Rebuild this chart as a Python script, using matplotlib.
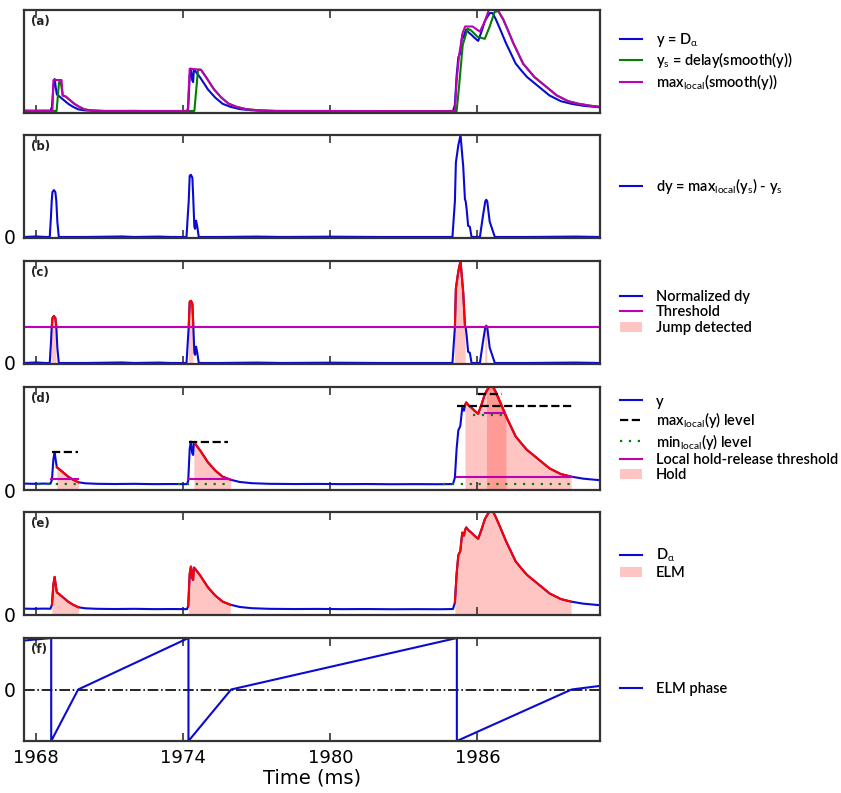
import numpy as np
import matplotlib
matplotlib.use("Agg")
import matplotlib.pyplot as plt
from matplotlib.patches import Patch

plt.rcParams['font.family'] = ['DejaVu Sans']
plt.rcParams['mathtext.fontset'] = 'custom'
plt.rcParams['mathtext.rm'] = 'Lato'
plt.rcParams['mathtext.it'] = 'Lato'

LEGEND_FONT = {'family': 'Lato', 'size': 10.5, 'weight': 'semibold'}

# --- data -----------------------------------------------------------------
# y = D_alpha
DALPHA_T = [1967.50, 1967.90, 1968.30, 1968.58, 1968.64, 1968.70, 1968.75, 1968.80,
            1968.84, 1968.95, 1969.10, 1969.30, 1969.50, 1969.72, 1970.00, 1970.50,
            1971.20, 1972.00, 1972.80, 1973.50, 1974.15, 1974.20, 1974.26, 1974.31,
            1974.36, 1974.40, 1974.43, 1974.48, 1974.70, 1975.00, 1975.30, 1975.60,
            1975.92, 1976.30, 1976.80, 1977.50, 1978.50, 1979.50, 1980.50, 1981.50,
            1982.50, 1983.50, 1984.50, 1985.00, 1985.08, 1985.15, 1985.22, 1985.30,
            1985.38, 1985.45, 1985.49, 1985.54, 1985.65, 1985.75, 1985.88, 1986.03,
            1986.18, 1986.30, 1986.37, 1986.50, 1986.62, 1986.75, 1986.95, 1987.16,
            1987.30, 1987.56, 1987.80, 1988.02, 1988.48, 1988.94, 1989.40, 1989.82,
            1990.32, 1991.00]
DALPHA = [0.062, 0.060, 0.062, 0.061, 0.10, 0.30, 0.37, 0.28,
          0.22, 0.20, 0.17, 0.13, 0.10, 0.075, 0.065, 0.060,
          0.058, 0.060, 0.057, 0.058, 0.057, 0.09, 0.40, 0.47,
          0.36, 0.34, 0.46, 0.45, 0.38, 0.27, 0.19, 0.13,
          0.10, 0.078, 0.066, 0.060, 0.058, 0.059, 0.057, 0.058,
          0.056, 0.057, 0.056, 0.058, 0.12, 0.40, 0.58, 0.62,
          0.80, 0.77, 0.82, 0.85, 0.82, 0.80, 0.77, 0.74,
          0.84, 0.93, 0.96, 1.01, 1.01, 0.95, 0.84, 0.72,
          0.65, 0.52, 0.45, 0.39, 0.30, 0.21, 0.155, 0.13,
          0.11, 0.095]

# y_s = delay(smooth(y))
YS_T = [1967.50, 1968.83, 1968.93, 1969.00, 1969.08, 1969.20, 1969.35, 1969.55,
        1969.75, 1969.97, 1970.25, 1970.75, 1974.45, 1974.60, 1974.72, 1974.95,
        1975.25, 1975.55, 1975.85, 1976.17, 1976.55, 1977.05, 1977.75, 1985.15,
        1985.25, 1985.40, 1985.60, 1985.75, 1986.00, 1986.30, 1986.50, 1986.70,
        1986.85, 1987.05, 1987.25, 1987.46, 1987.86, 1988.32, 1988.78, 1989.24,
        1989.70, 1990.12, 1990.62, 1991.00]
YS = [0.060, 0.060, 0.34, 0.34, 0.21, 0.20, 0.17, 0.13,
      0.10, 0.075, 0.065, 0.060, 0.060, 0.46, 0.46, 0.38,
      0.27, 0.19, 0.13, 0.10, 0.078, 0.066, 0.060, 0.058,
      0.30, 0.70, 0.86, 0.84, 0.78, 0.76, 0.88, 1.02,
      1.03, 0.95, 0.84, 0.72, 0.52, 0.39, 0.30, 0.21,
      0.155, 0.13, 0.11, 0.10]

# max_local(smooth(y))
YMAX_T = [1967.50, 1968.66, 1968.70, 1969.03, 1969.08, 1969.20, 1969.35, 1969.55,
          1969.75, 1969.97, 1970.25, 1970.75, 1974.18, 1974.26, 1974.72, 1974.95,
          1975.25, 1975.55, 1975.85, 1976.17, 1976.55, 1977.05, 1977.75, 1985.08,
          1985.15, 1985.25, 1985.40, 1985.50, 1985.80, 1986.10, 1986.30, 1986.48,
          1986.80, 1987.05, 1987.25, 1987.46, 1987.86, 1988.32, 1988.78, 1989.24,
          1989.70, 1990.12, 1990.62, 1991.00]
YMAX = [0.062, 0.062, 0.36, 0.36, 0.21, 0.20, 0.17, 0.13,
        0.10, 0.075, 0.065, 0.060, 0.058, 0.47, 0.46, 0.38,
        0.27, 0.19, 0.13, 0.10, 0.078, 0.066, 0.060, 0.058,
        0.35, 0.60, 0.82, 0.88, 0.88, 0.83, 0.93, 1.05,
        1.05, 0.95, 0.84, 0.72, 0.52, 0.39, 0.30, 0.21,
        0.155, 0.13, 0.11, 0.10]

# dy = max_local(y_s) - y_s  (panel c shows the same curve normalized)
DY_T = [1967.50, 1968.00, 1968.40, 1968.55, 1968.60, 1968.63, 1968.66, 1968.72,
        1968.78, 1968.82, 1968.86, 1968.92, 1970.00, 1971.50, 1972.00, 1973.00,
        1973.50, 1974.13, 1974.18, 1974.22, 1974.26, 1974.31, 1974.37, 1974.41,
        1974.45, 1974.48, 1974.52, 1974.57, 1974.63, 1975.50, 1977.00, 1978.00,
        1980.00, 1982.00, 1984.98, 1985.08, 1985.12, 1985.22, 1985.31, 1985.38,
        1985.42, 1985.49, 1985.52, 1985.56, 1985.62, 1985.69, 1985.76, 1986.10,
        1986.22, 1986.32, 1986.36, 1986.40, 1986.50, 1986.71, 1988.00, 1990.00,
        1991.00]
DY = [0.0, 0.005, 0.0, 0.0, 0.20, 0.35, 0.44, 0.46,
      0.44, 0.35, 0.15, 0.0, 0.0, 0.005, 0.0, 0.004,
      0.0, 0.0, 0.20, 0.35, 0.60, 0.61, 0.58, 0.35,
      0.10, 0.08, 0.16, 0.10, 0.0, 0.0, 0.004, 0.0,
      0.003, 0.0, 0.0, 0.35, 0.73, 0.90, 1.0, 0.80,
      0.69, 0.37, 0.35, 0.27, 0.11, 0.10, 0.0, 0.0,
      0.20, 0.35, 0.365, 0.35, 0.15, 0.0, 0.0, 0.004,
      0.0]
THRESHOLD = 0.35

# panel (d): hold windows and their levels
HOLD_START = [1968.84, 1974.43, 1985.49, 1986.37]
HOLD_END = [1969.72, 1975.92, 1989.82, 1987.16]
MAX_LEVEL = [0.37, 0.47, 0.82, 0.935]
MAX_START = [1968.64, 1974.22, 1985.15, 1986.03]
MAX_END = [1969.71, 1975.82, 1989.84, 1986.99]
MIN_LEVEL = [0.058, 0.058, 0.058, 0.724]
MIN_START = [1968.07, 1973.78, 1984.60, 1985.83]
MIN_END = [1969.72, 1975.92, 1989.84, 1987.12]
HR_LEVEL = [0.104, 0.11, 0.13, 0.747]
HR_START = [1968.62, 1974.19, 1985.15, 1986.31]
HR_END = [1969.72, 1975.92, 1989.84, 1987.12]

# panel (e): ELM windows
ELM_START = [1968.64, 1974.20, 1985.08]
ELM_END = [1969.72, 1975.92, 1989.82]

# panel (f): ELM phase
PHASE_T = [1967.50, 1968.61, 1968.61, 1969.71, 1974.21, 1974.21, 1975.95,
           1985.16, 1985.16, 1989.84, 1991.00]
PHASE = [0.95, 1.0, -1.0, 0.0, 1.0, -1.0, 0.0, 1.0, -1.0, 0.0, 0.07]

XTICKS = [1968, 1974, 1980, 1986]
XLIM = (1967.5, 1991.0)

BLUE = '#0a0ad2'
GREEN = '#007f00'
MAG = '#bf00b4'
RED = '#ff0000'
PINK = '#ff1a10'

# --- figure ----------------------------------------------------------------
W, H = 841, 793
fig = plt.figure(figsize=(W / 100, H / 100), dpi=100)

tops = [10, 135, 261, 387, 512, 638]
axes = []
for top in tops:
    ax = fig.add_axes([24 / W, 1 - (top + 103) / H, 576 / W, 103 / H])
    ax.set_xlim(*XLIM)
    ax.set_xticks(XTICKS)
    ax.tick_params(axis='x', direction='in', top=True, length=6, width=1.2,
                   labelbottom=False, colors='#333333')
    ax.tick_params(axis='y', direction='in', length=0, labelsize=13.5, pad=6)
    for s in ax.spines.values():
        s.set_linewidth(1.6)
        s.set_color('#333333')
    axes.append(ax)

t = np.array(DALPHA_T)
y = np.array(DALPHA)
dt = np.array(DY_T)
dy = np.array(DY)


def legend(ax, handles=None):
    kw = dict(loc='center left', bbox_to_anchor=(1.012, 0.5), frameon=False,
              prop=LEGEND_FONT, handlelength=1.5, handletextpad=0.95,
              labelspacing=0.1, borderaxespad=0.5)
    if handles is not None:
        ax.legend(handles=handles, **kw)
    else:
        ax.legend(**kw)


def panel_label(ax, s):
    ax.text(0.012, 0.95, s, transform=ax.transAxes, fontsize=8.5, va='top',
            ha='left', fontweight='bold', color='#222222')


# (a)
ax = axes[0]
ax.plot(t, y, color=BLUE, lw=1.5, label=r'y = D$_\alpha$')
ax.plot(YS_T, YS, color=GREEN, lw=1.5, label=r'y$_{\rm s}$ = delay(smooth(y))')
ax.plot(YMAX_T, YMAX, color=MAG, lw=1.5, label=r'max$_{\rm local}$(smooth(y))')
ax.set_ylim(0.04, 1.04)
ax.set_yticks([])
panel_label(ax, '(a)')
legend(ax)

# (b)
ax = axes[1]
ax.plot(dt, dy, color=BLUE, lw=1.5, label=r'dy = max$_{\rm local}$(y$_{\rm s}$) - y$_{\rm s}$')
ax.set_ylim(-0.01, 1.0)
ax.set_yticks([0])
panel_label(ax, '(b)')
legend(ax)

# (c)
ax = axes[2]
above = dy >= THRESHOLD - 1e-9
ax.fill_between(dt, 0, dy, where=above, color=PINK, alpha=0.25, lw=0)
ax.plot(dt, dy, color=BLUE, lw=1.5, label='Normalized dy')
ax.plot(dt, np.where(above, dy, np.nan), color=RED, lw=1.5)
ax.axhline(THRESHOLD, color=MAG, lw=1.5, label='Threshold')
ax.set_ylim(-0.01, 1.0)
ax.set_yticks([0])
panel_label(ax, '(c)')
h, l = ax.get_legend_handles_labels()
legend(ax, h + [Patch(facecolor=PINK, alpha=0.25, label='Jump detected')])

# (d)
ax = axes[3]
ax.plot(t, y, color=BLUE, lw=1.5, label='y')
for a, b in zip(HOLD_START, HOLD_END):
    m = (t >= a - 1e-9) & (t <= b + 1e-9)
    ax.fill_between(t[m], 0, y[m], color=PINK, alpha=0.25, lw=0)
    ax.plot(t[m], y[m], color=RED, lw=1.5)
for i in range(len(MAX_LEVEL)):
    ax.plot([MAX_START[i], MAX_END[i]], [MAX_LEVEL[i]] * 2, '--', color='k', lw=1.6,
            label=r'max$_{\rm local}$(y) level' if i == 0 else None)
    ax.plot([MIN_START[i], MIN_END[i]], [MIN_LEVEL[i]] * 2, color=GREEN, lw=1.6,
            ls=(0, (1, 3)), label=r'min$_{\rm local}$(y) level' if i == 0 else None)
    ax.plot([HR_START[i], HR_END[i]], [HR_LEVEL[i]] * 2, '-', color=MAG, lw=1.5,
            label='Local hold-release threshold' if i == 0 else None)
ax.set_ylim(0, 1.0)
ax.set_yticks([0])
panel_label(ax, '(d)')
h, l = ax.get_legend_handles_labels()
legend(ax, h + [Patch(facecolor=PINK, alpha=0.25, label='Hold')])

# (e)
ax = axes[4]
ax.plot(t, y, color=BLUE, lw=1.5, label=r'D$_\alpha$')
for a, b in zip(ELM_START, ELM_END):
    m = (t >= a - 1e-9) & (t <= b + 1e-9)
    ax.fill_between(t[m], 0, y[m], color=PINK, alpha=0.25, lw=0)
    ax.plot(t[m], y[m], color=RED, lw=1.5)
ax.set_ylim(0, 1.0)
ax.set_yticks([0])
panel_label(ax, '(e)')
h, l = ax.get_legend_handles_labels()
legend(ax, h + [Patch(facecolor=PINK, alpha=0.25, label='ELM')])

# (f)
ax = axes[5]
ax.axhline(0, color='k', lw=1.2, ls='-.')
ax.plot(PHASE_T, PHASE, color=BLUE, lw=1.5, label='ELM phase')
ax.set_ylim(-1, 1)
ax.set_yticks([0])
ax.tick_params(axis='x', labelbottom=True, labelsize=13, pad=6, labelcolor='k')
ax.set_xlabel('Time (ms)', fontsize=14, labelpad=1)
panel_label(ax, '(f)')
legend(ax)

fig.savefig('out.png', dpi=100)
